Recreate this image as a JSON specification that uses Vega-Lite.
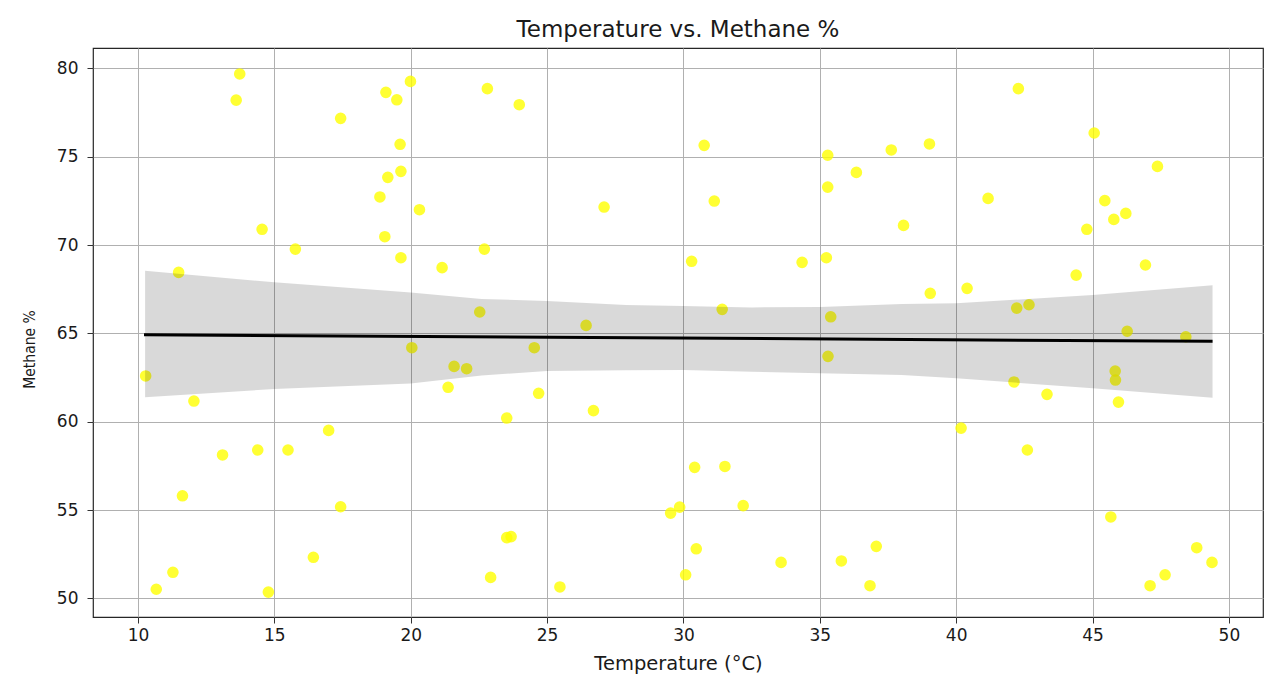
{
  "$schema": "https://vega.github.io/schema/vega-lite/v6.json",
  "autosize": {"type": "none"},
  "padding": {"left": 93, "top": 48, "right": 2, "bottom": 62},
  "width": 1170,
  "height": 569,
  "background": "white",
  "title": {
    "text": "Temperature vs. Methane %",
    "font": "DejaVu Sans",
    "fontSize": 23,
    "fontWeight": "normal",
    "color": "#1a1a1a",
    "anchor": "middle",
    "baseline": "alphabetic",
    "offset": 11,
    "dy": 23
  },
  "config": {
    "view": {"stroke": "#262626", "strokeWidth": 1.2},
    "axis": {
      "domain": false,
      "grid": true,
      "gridColor": "#b0b0b0",
      "gridWidth": 1,
      "gridOpacity": 1,
      "tickColor": "#333333",
      "tickWidth": 1,
      "tickSize": 6,
      "labelFont": "DejaVu Sans",
      "labelFontSize": 17,
      "labelColor": "#1a1a1a",
      "titleFont": "DejaVu Sans",
      "titleFontWeight": "normal",
      "titleColor": "#1a1a1a"
    }
  },
  "datasets": {
    "pts": [
      {"temp": 13.73, "methane": 79.68}, {"temp": 13.6, "methane": 78.2}, {"temp": 19.09, "methane": 78.64},
      {"temp": 19.49, "methane": 78.22}, {"temp": 19.99, "methane": 79.26}, {"temp": 22.81, "methane": 78.85},
      {"temp": 17.43, "methane": 77.17}, {"temp": 19.61, "methane": 75.7}, {"temp": 19.16, "methane": 73.83},
      {"temp": 19.64, "methane": 74.17}, {"temp": 18.87, "methane": 72.72}, {"temp": 20.32, "methane": 72.0},
      {"temp": 14.55, "methane": 70.89}, {"temp": 15.77, "methane": 69.77}, {"temp": 19.05, "methane": 70.47},
      {"temp": 19.64, "methane": 69.28}, {"temp": 21.15, "methane": 68.72}, {"temp": 22.7, "methane": 69.77},
      {"temp": 11.49, "methane": 68.45}, {"temp": 22.53, "methane": 66.21}, {"temp": 23.98, "methane": 77.94},
      {"temp": 30.76, "methane": 75.64}, {"temp": 35.29, "methane": 75.08}, {"temp": 37.62, "methane": 75.38},
      {"temp": 36.34, "methane": 74.11}, {"temp": 35.29, "methane": 73.28}, {"temp": 27.09, "methane": 72.15},
      {"temp": 31.13, "methane": 72.49}, {"temp": 38.07, "methane": 71.11}, {"temp": 30.3, "methane": 69.08},
      {"temp": 34.35, "methane": 69.02}, {"temp": 35.24, "methane": 69.28}, {"temp": 31.42, "methane": 66.36},
      {"temp": 26.43, "methane": 65.45}, {"temp": 35.4, "methane": 65.94}, {"temp": 42.28, "methane": 78.85},
      {"temp": 45.06, "methane": 76.34}, {"temp": 39.02, "methane": 75.72}, {"temp": 47.38, "methane": 74.45},
      {"temp": 41.17, "methane": 72.64}, {"temp": 45.45, "methane": 72.51}, {"temp": 46.22, "methane": 71.79},
      {"temp": 45.78, "methane": 71.45}, {"temp": 44.79, "methane": 70.89}, {"temp": 46.94, "methane": 68.87},
      {"temp": 44.4, "methane": 68.3}, {"temp": 39.05, "methane": 67.27}, {"temp": 40.4, "methane": 67.55},
      {"temp": 42.22, "methane": 66.43}, {"temp": 42.67, "methane": 66.62}, {"temp": 46.27, "methane": 65.12},
      {"temp": 48.42, "methane": 64.81}, {"temp": 10.28, "methane": 62.59}, {"temp": 12.05, "methane": 61.17},
      {"temp": 20.04, "methane": 64.19}, {"temp": 21.59, "methane": 63.13}, {"temp": 22.05, "methane": 63.0},
      {"temp": 21.37, "methane": 61.95}, {"temp": 16.99, "methane": 59.51}, {"temp": 13.1, "methane": 58.12},
      {"temp": 14.39, "methane": 58.4}, {"temp": 15.5, "methane": 58.4}, {"temp": 11.63, "methane": 55.81},
      {"temp": 17.43, "methane": 55.19}, {"temp": 16.43, "methane": 52.33}, {"temp": 11.28, "methane": 51.48},
      {"temp": 10.67, "methane": 50.52}, {"temp": 14.78, "methane": 50.36}, {"temp": 22.93, "methane": 51.19},
      {"temp": 23.52, "methane": 53.44}, {"temp": 23.68, "methane": 53.5}, {"temp": 23.52, "methane": 60.21},
      {"temp": 24.53, "methane": 64.19}, {"temp": 35.3, "methane": 63.7}, {"temp": 24.69, "methane": 61.61},
      {"temp": 26.7, "methane": 60.63}, {"temp": 30.41, "methane": 57.42}, {"temp": 31.52, "methane": 57.47},
      {"temp": 29.86, "methane": 55.17}, {"temp": 29.53, "methane": 54.83}, {"temp": 32.19, "methane": 55.25},
      {"temp": 30.47, "methane": 52.81}, {"temp": 30.08, "methane": 51.34}, {"temp": 25.47, "methane": 50.65},
      {"temp": 33.58, "methane": 52.04}, {"temp": 35.79, "methane": 52.12}, {"temp": 37.07, "methane": 52.95},
      {"temp": 36.84, "methane": 50.72}, {"temp": 45.83, "methane": 62.87}, {"temp": 45.84, "methane": 62.36},
      {"temp": 42.12, "methane": 62.25}, {"temp": 43.33, "methane": 61.55}, {"temp": 45.95, "methane": 61.11},
      {"temp": 40.18, "methane": 59.64}, {"temp": 42.61, "methane": 58.4}, {"temp": 45.67, "methane": 54.61},
      {"temp": 48.82, "methane": 52.87}, {"temp": 49.38, "methane": 52.04}, {"temp": 47.66, "methane": 51.34},
      {"temp": 47.11, "methane": 50.72}
    ],
    "band": [
      {"temp": 10.26, "lo": 61.38, "hi": 68.55},
      {"temp": 15.0, "lo": 61.85, "hi": 67.89},
      {"temp": 20.0, "lo": 62.17, "hi": 67.32},
      {"temp": 22.6, "lo": 62.62, "hi": 66.95},
      {"temp": 25.0, "lo": 62.87, "hi": 66.83},
      {"temp": 27.9, "lo": 62.92, "hi": 66.6},
      {"temp": 30.0, "lo": 62.93, "hi": 66.55},
      {"temp": 32.5, "lo": 62.83, "hi": 66.47},
      {"temp": 35.0, "lo": 62.74, "hi": 66.5},
      {"temp": 38.0, "lo": 62.65, "hi": 66.66},
      {"temp": 40.0, "lo": 62.46, "hi": 66.7},
      {"temp": 45.0, "lo": 61.89, "hi": 67.17},
      {"temp": 49.4, "lo": 61.36, "hi": 67.73}
    ],
    "fit": [
      {"temp": 10.22, "methane": 64.92},
      {"temp": 49.4, "methane": 64.55}
    ]
  },
  "layer": [
    {
      "data": {"name": "pts"},
      "mark": {"type": "circle", "size": 135, "color": "#ffff00", "opacity": 0.8},
      "encoding": {
        "x": {
          "field": "temp", "type": "quantitative",
          "scale": {"domain": [8.35, 51.25], "nice": false, "zero": false},
          "axis": {"values": [10, 15, 20, 25, 30, 35, 40, 45, 50], "title": "Temperature (°C)", "titleFontSize": 19.5, "labelPadding": 4, "titleBaseline": "alphabetic", "titleY": 52}
        },
        "y": {
          "field": "methane", "type": "quantitative",
          "scale": {"domain": [48.95, 81.15], "nice": false, "zero": false},
          "axis": {"values": [50, 55, 60, 65, 70, 75, 80], "title": "Methane %", "titleFont": "DejaVu Sans Condensed, DejaVu Sans, sans-serif", "titleFontSize": 15.5, "labelPadding": 9, "titleAngle": 270, "titleAlign": "center", "titleBaseline": "middle", "titleX": -64, "titleY": 301}
        }
      }
    },
    {
      "data": {"name": "band"},
      "mark": {"type": "area", "color": "#000000", "opacity": 0.15},
      "encoding": {
        "x": {"field": "temp", "type": "quantitative"},
        "y": {"field": "lo", "type": "quantitative"},
        "y2": {"field": "hi"}
      }
    },
    {
      "data": {"name": "fit"},
      "mark": {"type": "line", "color": "#000000", "strokeWidth": 3},
      "encoding": {
        "x": {"field": "temp", "type": "quantitative"},
        "y": {"field": "methane", "type": "quantitative"}
      }
    }
  ]
}
